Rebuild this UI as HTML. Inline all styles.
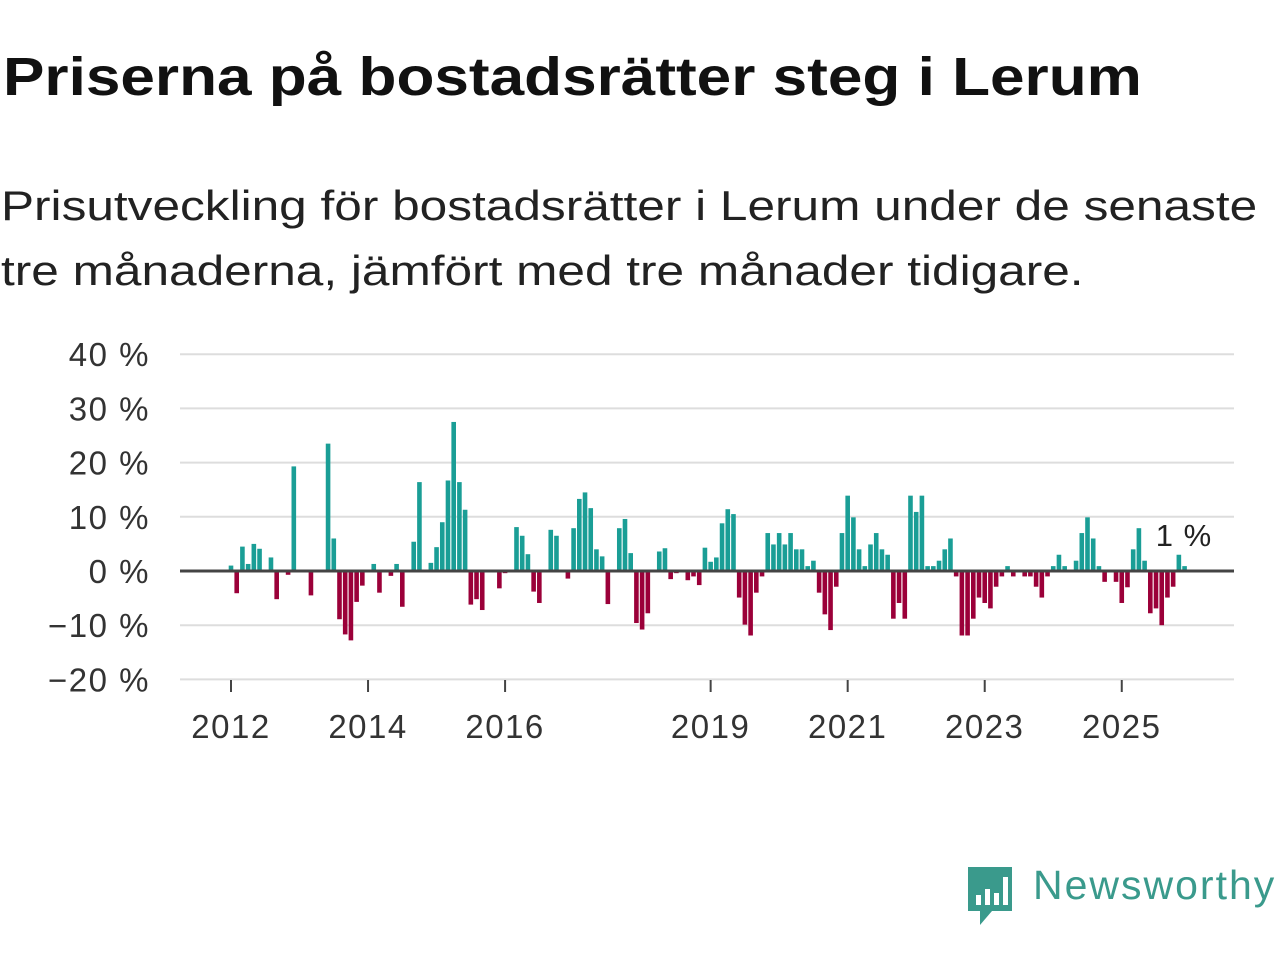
<!DOCTYPE html>
<html><head><meta charset="utf-8"><style>
body{margin:0;width:1280px;height:960px;background:#fff;font-family:"Liberation Sans",sans-serif;overflow:hidden;position:relative}
h1{position:absolute;left:3px;top:46px;margin:0;font-size:54px;font-weight:bold;color:#111;white-space:nowrap;transform-origin:0 0;transform:scaleX(1.15)}
.sub{position:absolute;left:1px;top:173px;margin:0;font-size:42px;line-height:65px;color:#222;white-space:nowrap;transform-origin:0 0;transform:scaleX(1.18)}
.logo{position:absolute;left:1033px;top:862px;font-size:41px;color:#3a9a8c;letter-spacing:2px}
</style></head><body>
<h1>Priserna på bostadsrätter steg i Lerum</h1>
<div class="sub">Prisutveckling för bostadsrätter i Lerum under de senaste<br>tre månaderna, jämfört med tre månader tidigare.</div>
<svg id="chart" width="1280" height="960" style="position:absolute;left:0;top:0"></svg>
<svg width="52" height="62" style="position:absolute;left:964px;top:865px">
<path d="M4 2h44v44H28l-12 14V46H4z" fill="#3a9a8c"/>
<rect x="12" y="30" width="5" height="10" fill="#fff"/><rect x="21" y="24" width="5" height="16" fill="#fff"/><rect x="30" y="28" width="5" height="12" fill="#fff"/><rect x="39" y="12" width="5" height="28" fill="#fff"/>
</svg>
<div class="logo">Newsworthy</div>
<script>
const values=[1,-4.1,4.5,1.3,5,4.1,0,2.5,-5.2,0,-0.7,19.3,0,0,-4.5,0,0,23.5,6,-8.9,-11.7,-12.8,-5.7,-2.7,0,1.3,-4,0,-0.9,1.3,-6.6,0,5.4,16.4,0,1.5,4.4,9,16.7,27.5,16.4,11.3,-6.2,-5.2,-7.2,0,0,-3.2,-0.4,0,8.1,6.5,3.1,-3.8,-5.9,0,7.6,6.5,0,-1.4,7.9,13.3,14.5,11.6,4,2.7,-6.1,0,7.9,9.6,3.3,-9.6,-10.8,-7.8,0,3.6,4.2,-1.5,-0.4,0,-1.7,-1,-2.6,4.3,1.7,2.5,8.8,11.4,10.5,-4.9,-9.9,-11.9,-4,-1,7,4.9,7,4.9,7,4,4,0.9,1.9,-4,-8,-10.9,-2.9,7,13.9,9.9,4,0.9,4.9,7,4,3,-8.8,-5.9,-8.8,13.9,10.9,13.9,0.9,0.9,1.9,4,6,-1,-11.9,-11.9,-8.8,-4.9,-5.9,-6.9,-2.9,-1,0.9,-1,0,-1,-1,-2.9,-4.9,-1,0.9,3,0.9,0,1.9,7,9.9,6,0.9,-2,0,-2,-5.9,-3,4,7.9,1.9,-7.8,-6.9,-10,-4.9,-2.9,3,0.9];
const yTicks=[40,30,20,10,0,-10,-20];
const yearLabels=["2012","2014","2016","2019","2021","2023","2025"];
const yearMonths=[0,24,48,84,108,132,156];
const lastLabel="1 %";
const NS="http://www.w3.org/2000/svg";
const svg=document.getElementById('chart');
const x=m=>231+m*5.71;
const y=v=>571-v*5.42;
function mk(t,a){const e=document.createElementNS(NS,t);for(const k in a)e.setAttribute(k,a[k]);svg.appendChild(e);return e;}
yTicks.forEach(t=>{
  const g=mk('line',{x1:180,x2:1234,y1:y(t),y2:y(t),stroke:'#ddd','stroke-width':2});
  
  
  const l=mk('text',{x:150,y:y(t)+12,'text-anchor':'end','font-size':33,'letter-spacing':1.5,fill:'#333','font-family':'Liberation Sans, sans-serif'});
  l.textContent=(t<0?'\u2212'+(-t):t)+' %';
  
  
});
yearLabels.forEach((lab,i)=>{
  const tk=mk('line',{x1:x(yearMonths[i]),x2:x(yearMonths[i]),y1:680,y2:692,stroke:'#444','stroke-width':2});
  
  
  const t=mk('text',{x:x(yearMonths[i]),y:738,'text-anchor':'middle','font-size':33,'letter-spacing':1.5,fill:'#333','font-family':'Liberation Sans, sans-serif'});
  t.textContent=lab;
  
  
});
values.forEach((v,i)=>{
  if(!v)return;
  const top=Math.min(y(v),y(0)),h=Math.abs(y(v)-y(0));
  const r=mk('rect',{x:x(i)-2.3,y:top,width:4.6,height:h,fill:v>0?'#1a9e96':'#9b0039'});
  
  
});
const z=mk('line',{x1:180,x2:1234,y1:y(0),y2:y(0),stroke:'#444','stroke-width':3});


const lt=mk('text',{x:1184,y:546,'text-anchor':'middle','font-size':31,'letter-spacing':1,fill:'#222',stroke:'#fff','stroke-width':6,'paint-order':'stroke','font-family':'Liberation Sans, sans-serif'});
lt.textContent=lastLabel;


</script>
</body></html>
